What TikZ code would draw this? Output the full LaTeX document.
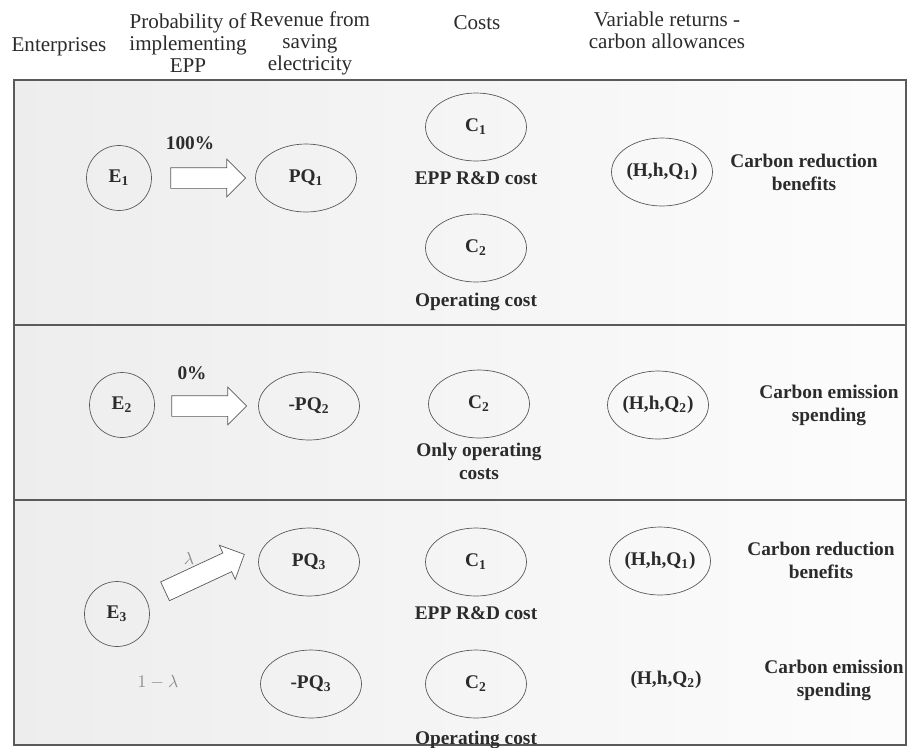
\documentclass[tikz,border=0pt]{standalone}
\usepackage{fontspec}
\setmainfont{Liberation Serif}
\usetikzlibrary{shapes.geometric,shapes.arrows}
\definecolor{ink}{HTML}{2B2B2B}
\definecolor{rule}{HTML}{5A5A5A}

\begin{document}
\begin{tikzpicture}
          [x = 0.02cm, y = -0.02cm, text = ink, font = \bfseries\fontsize{11}{13}\selectfont,
           ent/.style = {circle, draw = rule, minimum size = 1.3cm, inner sep = 0pt},
           val/.style = {ellipse, draw = rule, minimum width = 2.02cm, minimum height = 1.36cm, inner sep = 0pt},
           prob/.style = {single arrow, draw = rule, fill = white, inner xsep = 0pt, inner ysep = 0.2cm,
                          minimum height = 1.5cm, single arrow head extend = 0.17cm},
           lab/.style = {align = center},
           faint/.style = {text = black!45, font = \normalsize},
           head/.style = {align = center, font = \fontsize{12}{12.5}\selectfont}]
          \useasboundingbox (0,0) rectangle (908,747);
          \shade[left color = black!7, right color = black!1] (14,80) rectangle (906,745);
          \draw[rule, line width = 0.8pt] (14,80) rectangle (906,745);
          \draw[rule, line width = 0.8pt] (14,325) -- (906,325);
          \draw[rule, line width = 0.8pt] (14,500) -- (906,500);

          \node[head] (hent) at (59,47) {Enterprises};
          \node[head] (hprob) at (188,43) {Probability of\\implementing\\EPP};
          \node[head] (hrev) at (310,43) {Revenue from\\saving\\electricity};
          \node[head] (hcost) at (477,23) {Costs};
          \node[head] (hvar) at (667,30) {Variable returns -\\carbon allowances};

          \node[ent] (e1) at (119,178) {E\textsubscript{1}};
          \node[prob] (a1) at (203,178) {};
          \node (p1) at (190,143) {100\%};
          \node[val] (pq1) at (306,178) {PQ\textsubscript{1}};
          \node[val] (c11) at (476,127) {C\textsubscript{1}};
          \node (c11l) at (476,178) {EPP R\&D cost};
          \node[val] (c12) at (476,248) {C\textsubscript{2}};
          \node (c12l) at (476,302) {Operating cost};
          \node[val] (r1) at (662,172) {(H,h,Q\textsubscript{1})};
          \node[lab] (r1l) at (804,172) {Carbon reduction\\benefits};

          \node[ent] (e2) at (122,405) {E\textsubscript{2}};
          \node[prob] (a2) at (204,406) {};
          \node (p2) at (192,373) {0\%};
          \node[val] (pq2) at (309,406) {-PQ\textsubscript{2}};
          \node[val] (c22) at (479,404) {C\textsubscript{2}};
          \node[lab] (c22l) at (479,461) {Only operating\\costs};
          \node[val] (r2) at (658,405) {(H,h,Q\textsubscript{2})};
          \node[lab] (r2l) at (829,405) {Carbon emission\\spending};

          \node[ent] (e3) at (117,614) {E\textsubscript{3}};
          \node[prob, minimum height = 1.75cm, rotate = 25] (a3) at (200,575) {};
          \node[faint] (p3) at (189,558) {$\lambda$};
          \node[faint] (q3) at (158,682) {$1-\lambda$};
          \node[val] (pq3) at (309,562) {PQ\textsubscript{3}};
          \node[val] (mpq3) at (311,684) {-PQ\textsubscript{3}};
          \node[val] (c31) at (476,562) {C\textsubscript{1}};
          \node (c31l) at (476,613) {EPP R\&D cost};
          \node[val] (c32) at (476,684) {C\textsubscript{2}};
          \node (c32l) at (476,740) {Operating cost};
          \node[val] (r31) at (660,561) {(H,h,Q\textsubscript{1})};
          \node[lab] (r31l) at (821,560) {Carbon reduction\\benefits};
          \node (r32) at (666,680) {(H,h,Q\textsubscript{2})};
          \node[lab] (r32l) at (834,680) {Carbon emission\\spending};
        \end{tikzpicture}
\end{document}
